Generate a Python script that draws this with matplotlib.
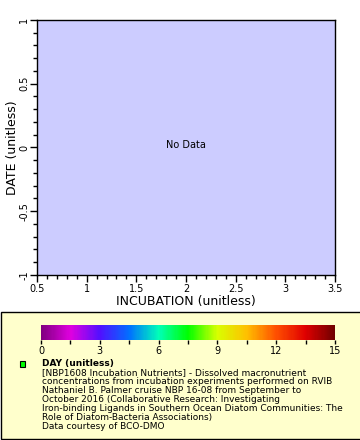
import matplotlib
matplotlib.use("Agg")
import matplotlib.pyplot as plt
from matplotlib.colors import LinearSegmentedColormap, Normalize
from matplotlib.patches import Rectangle
import matplotlib.colorbar as mcolorbar

# Dados (nenhum ponto no gráfico: "No Data")
incubation = []
date = []
day = []

x_range = [0.5, 3.5]
y_range = [-1, 1]
x_ticks = [0.5, 1, 1.5, 2, 2.5, 3, 3.5]
x_tick_labels = ['0.5', '1', '1.5', '2', '2.5', '3', '3.5']
y_ticks = [-1, -0.5, 0, 0.5, 1]
y_tick_labels = ['-1', '-0.5', '0', '0.5', '1']
cbar_range = [0, 15]
cbar_ticks = [0, 3, 6, 9, 12, 15]

legend_title = 'DAY (unitless)'
legend_lines = [
    '[NBP1608 Incubation Nutrients] - Dissolved macronutrient',
    'concentrations from incubation experiments performed on RVIB',
    'Nathaniel B. Palmer cruise NBP 16-08 from September to',
    'October 2016 (Collaborative Research: Investigating',
    'Iron-binding Ligands in Southern Ocean Diatom Communities: The',
    'Role of Diatom-Bacteria Associations)',
    'Data courtesy of BCO-DMO',
]

# Paleta arco-íris
cores = ['#800080', '#e000e0', '#5010ff', '#0070ff', '#00ffb8', '#00ff00',
         '#d8ff00', '#ffc000', '#ff5000', '#e00000', '#700000']
cmap = LinearSegmentedColormap.from_list('rainbow2', cores)

W, H = 360, 440
fig = plt.figure(figsize=(W / 100, H / 100), dpi=100)
fig.patch.set_facecolor('white')

def fx(px):
    return px / W

def fy(py):
    return 1 - py / H

# Caixa da legenda (atrás de tudo)
fig.patches.append(Rectangle((fx(0.5), fy(439)), fx(362) - fx(0.5), fy(312) - fy(439),
                             transform=fig.transFigure, facecolor='#ffffcc',
                             edgecolor='black', linewidth=1, zorder=-5))

# Eixo principal
ax = fig.add_axes([fx(37), fy(275), fx(335) - fx(37), fy(20) - fy(275)])
ax.set_facecolor('#ccccff')
ax.scatter(incubation, date, c=day, cmap=cmap, vmin=cbar_range[0], vmax=cbar_range[1])
ax.set_xlim(x_range)
ax.set_ylim(y_range)
ax.set_xticks(x_ticks)
ax.set_xticklabels(x_tick_labels)
ax.set_yticks(y_ticks)
ax.set_yticklabels(y_tick_labels, rotation=90, va='center')
ax.xaxis.set_minor_locator(plt.MultipleLocator(0.1))
ax.yaxis.set_minor_locator(plt.MultipleLocator(0.1))
ax.tick_params(which='major', direction='out', length=5, width=1, labelsize=7, pad=1.5)
ax.tick_params(axis='y', which='major', pad=0.5)
ax.tick_params(which='minor', direction='out', length=3, width=1)
ax.tick_params(top=False, right=False, which='both')
for s in ax.spines.values():
    s.set_linewidth(1)
ax.set_xlabel('INCUBATION (unitless)', fontsize=9, labelpad=1)
ax.set_ylabel('DATE (unitless)', fontsize=9, va='center')
ax.yaxis.set_label_coords((12.5 - 37) / 298, 0.5)
ax.text(0.5, 0.5, 'No Data', transform=ax.transAxes, ha='center', va='baseline', fontsize=7)

# Barra de cores
cax = fig.add_axes([fx(41), fy(340), fx(335) - fx(41), fy(325) - fy(340)])
cb = mcolorbar.ColorbarBase(cax, cmap=cmap, norm=Normalize(*cbar_range),
                            orientation='horizontal')
cb.set_ticks(cbar_ticks)
cb.outline.set_visible(False)
cax.xaxis.set_minor_locator(plt.MultipleLocator(1.5))
cax.tick_params(which='major', direction='out', length=3, width=1, labelsize=7, pad=1)
cax.tick_params(which='minor', direction='out', length=3, width=1)

# Marcador e textos da legenda
fig.patches.append(Rectangle((fx(19.5), fy(367)), fx(5.5), fy(361.5) - fy(367),
                             transform=fig.transFigure, facecolor='#00ff00',
                             edgecolor='black', linewidth=0.8, zorder=3))
fig.text(fx(42.5), fy(366), legend_title, fontsize=6.5, fontweight='bold', va='baseline')
for i, linha in enumerate(legend_lines):
    fig.text(fx(42.5), fy(375 + 9 * i), linha, fontsize=6.5, va='baseline')

fig.savefig('out.png', dpi=100)
